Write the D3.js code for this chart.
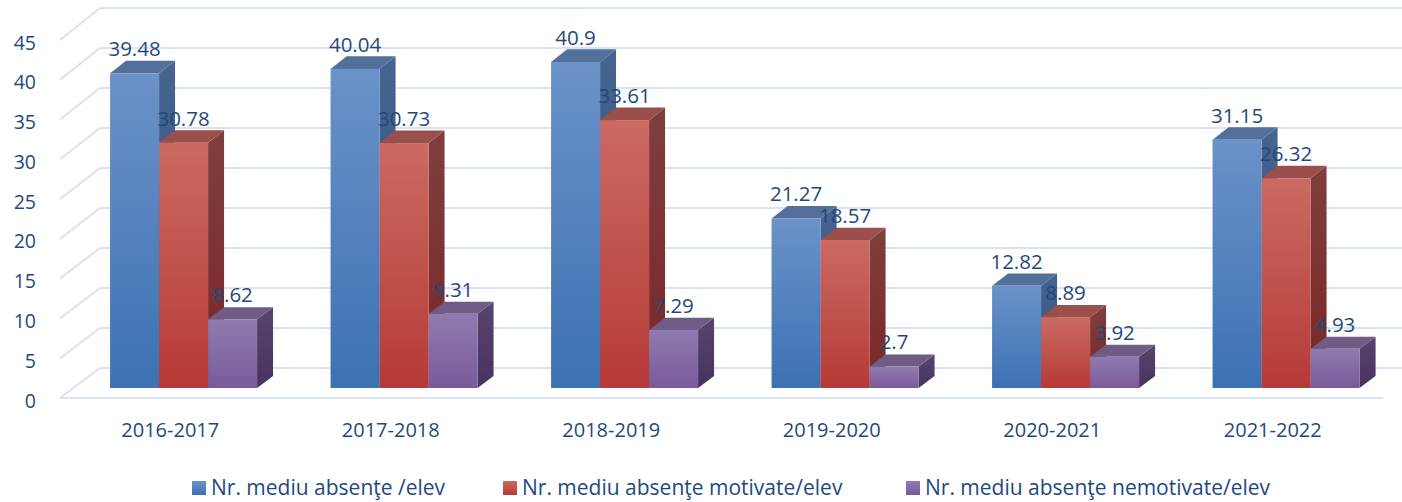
<!DOCTYPE html>
<html>
<head>
<meta charset="utf-8">
<script src="https://cdn.jsdelivr.net/npm/d3@7"></script>
<style>
  html, body { margin: 0; padding: 0; background: #ffffff; }
  svg { display: block; }
  text { font-family: "Open Sans", sans-serif; fill: #1F497D; }
</style>
</head>
<body>
<svg id="chart" width="1402" height="502"></svg>
<script>
// School years
const categories = ["2016-2017", "2017-2018", "2018-2019", "2019-2020", "2020-2021", "2021-2022"];
// Average absences per pupil
const totalAbsences     = [39.48, 40.04, 40.9, 21.27, 12.82, 31.15];
const excusedAbsences   = [30.78, 30.73, 33.61, 18.57, 8.89, 26.32];
const unexcusedAbsences = [8.62, 9.31, 7.29, 2.7, 3.92, 4.93];
const seriesNames = [
  "Nr. mediu absenţe /elev",
  "Nr. mediu absenţe motivate/elev",
  "Nr. mediu absenţe nemotivate/elev"
];
const yTicks = [0, 5, 10, 15, 20, 25, 30, 35, 40, 45];

const series = [totalAbsences, excusedAbsences, unexcusedAbsences];

// Colour sets per series: front gradient (top, bottom), side gradient, top face
const palette = [
  { front: ["#6b92c9", "#3c71b3"], side: ["#46648f", "#2f5282"], top: "#53709a" },
  { front: ["#cb6a63", "#b63a36"], side: ["#7f3f3d", "#7a2626"], top: "#9b4f4b" },
  { front: ["#8f7bb0", "#7a5a9a"], side: ["#56456f", "#47335e"], top: "#6f5c85" }
];

const svg = d3.select("#chart");

// Projection of the 3-D box: depth 0 = front floor edge, depth 1 = back wall
const depthDX = 40;
const yFront = d3.scaleLinear().domain([0, 45]).range([398, 40]);
const yBack  = d3.scaleLinear().domain([0, 45]).range([368, 8]);
const yAt = (v, d) => yFront(v) + (yBack(v) - yFront(v)) * d;

const x = d3.scaleBand().domain(categories).range([60, 1383]).paddingInner(0).paddingOuter(0);
const groupW = 147;
const barW = groupW / 3;
const dNear = 0.333, dFar = 0.733;

// Gradients
const defs = svg.append("defs");
palette.forEach((p, i) => {
  ["front", "side"].forEach(k => {
    const g = defs.append("linearGradient")
      .attr("id", `g-${k}-${i}`).attr("x1", 0).attr("y1", 0).attr("x2", 0).attr("y2", 1);
    g.append("stop").attr("offset", "0%").attr("stop-color", p[k][0]);
    g.append("stop").attr("offset", "100%").attr("stop-color", p[k][1]);
  });
});

// Back wall gridlines and left wall diagonals
const grid = svg.append("g").attr("stroke", "#d9e3f2").attr("stroke-width", 2).attr("fill", "none");
grid.selectAll("line.back").data(yTicks).join("line")
  .attr("class", "back")
  .attr("x1", 60 + depthDX).attr("x2", 1402)
  .attr("y1", d => yBack(d)).attr("y2", d => yBack(d));
grid.selectAll("line.side").data(yTicks).join("line")
  .attr("class", "side")
  .attr("x1", 60).attr("x2", 60 + depthDX)
  .attr("y1", d => yFront(d)).attr("y2", d => yBack(d));
// Front edge of the floor
grid.append("line")
  .attr("x1", 60).attr("x2", x.range()[1])
  .attr("y1", yFront(0)).attr("y2", yFront(0));

// Y axis tick labels
svg.append("g").selectAll("text").data(yTicks).join("text")
  .attr("x", 36).attr("y", d => yFront(d) + 2)
  .attr("text-anchor", "end").attr("dominant-baseline", "central")
  .attr("font-size", 19.5)
  .text(d => d);

// Bars
const bars = svg.append("g");
const labelData = [];
categories.forEach((c, ci) => {
  const bandX = x(c) + (x.bandwidth() - groupW) / 2;
  series.forEach((vals, si) => {
    const v = vals[ci];
    const xl = bandX + si * barW;          // front-plane left
    const fx0 = xl + depthDX * dNear, fx1 = fx0 + barW;
    const bx0 = xl + depthDX * dFar,  bx1 = bx0 + barW;
    const fyT = yAt(v, dNear), fyB = yAt(0, dNear);
    const byT = yAt(v, dFar),  byB = yAt(0, dFar);
    const g = bars.append("g");
    // right side face
    g.append("path")
      .attr("d", `M${fx1},${fyT}L${bx1},${byT}L${bx1},${byB}L${fx1},${fyB}Z`)
      .attr("fill", `url(#g-side-${si})`);
    // top face
    g.append("path")
      .attr("d", `M${fx0},${fyT}L${bx0},${byT}L${bx1},${byT}L${fx1},${fyT}Z`)
      .attr("fill", palette[si].top);
    // front face
    g.append("rect")
      .attr("x", fx0).attr("y", fyT).attr("width", barW).attr("height", fyB - fyT)
      .attr("fill", `url(#g-front-${si})`);
    labelData.push({ x: fx0 + barW / 2, y: fyT - 17, v });
  });
});

// Value labels
svg.append("g").selectAll("text").data(labelData).join("text")
  .attr("x", d => d.x).attr("y", d => d.y)
  .attr("text-anchor", "middle")
  .attr("font-size", 20.5)
  .text(d => d.v);

// Category labels
svg.append("g").selectAll("text").data(categories).join("text")
  .attr("x", d => x(d) + x.bandwidth() / 2).attr("y", 437)
  .attr("text-anchor", "middle")
  .attr("font-size", 20)
  .text(d => d);

// Legend
const legendX = [192, 503, 906];
const legend = svg.append("g");
seriesNames.forEach((name, i) => {
  legend.append("rect")
    .attr("x", legendX[i]).attr("y", 481).attr("width", 14).attr("height", 14)
    .attr("fill", `url(#g-front-${i})`);
  legend.append("text")
    .attr("x", legendX[i] + 19).attr("y", 495)
    .attr("font-size", 21)
    .text(name);
});
</script>
</body>
</html>
